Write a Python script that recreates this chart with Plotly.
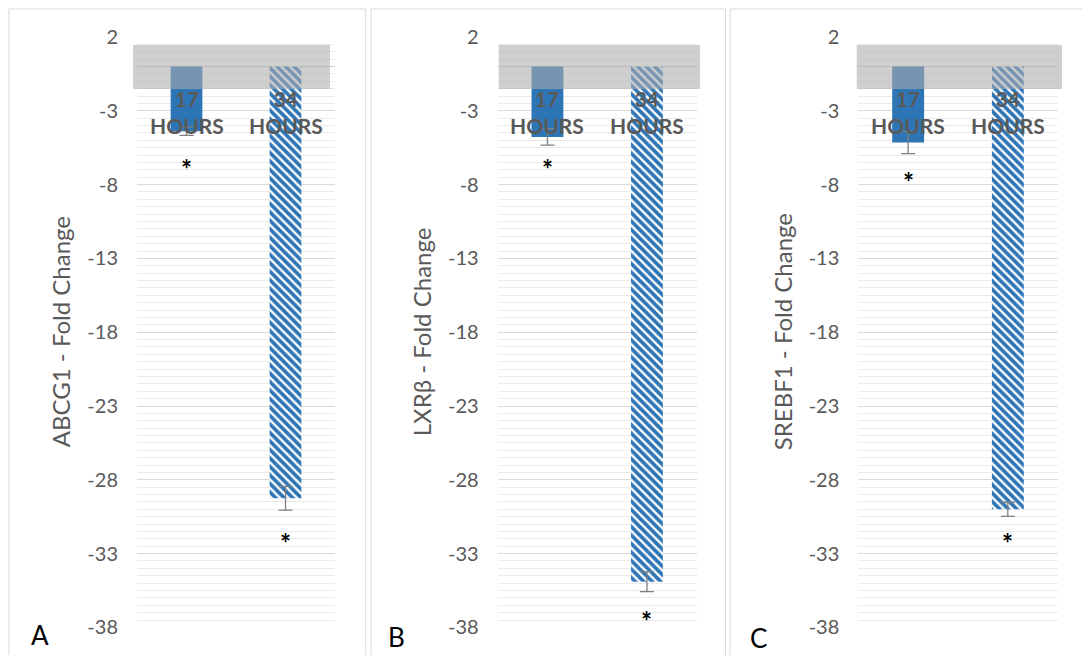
import plotly.graph_objects as go

# ---------------- data ----------------
categories = ["17 HOURS", "34 HOURS"]
category_labels = ["17<br>HOURS", "34<br>HOURS"]
panel_letters = ["A", "B", "C"]
gene_titles = ["ABCG1 - Fold Change", "LXRβ - Fold Change", "SREBF1 - Fold Change"]

abcg1_values = [-4.38, -29.25]
abcg1_errors = [0.28, 0.80]
lxrb_values = [-4.77, -34.90]
lxrb_errors = [0.56, 0.68]
srebf1_values = [-5.15, -30.00]
srebf1_errors = [0.75, 0.48]

abcg1_star_y = [-6.46, -31.8]
lxrb_star_y = [-6.46, -37.1]
srebf1_star_y = [-7.36, -31.8]

y_ticks = [2, -3, -8, -13, -18, -23, -28, -33, -38]
y_range = [-38, 2]
band_top = 1.46
band_bottom = -1.52

panel_values = [abcg1_values, lxrb_values, srebf1_values]
panel_errors = [abcg1_errors, lxrb_errors, srebf1_errors]
panel_stars = [abcg1_star_y, lxrb_star_y, srebf1_star_y]

# ---------------- layout geometry (pixels) ----------------
W, H = 1082, 655
plot_x = [(137, 335), (497.7, 696.7), (858.3, 1057.7)]
plot_top, plot_bottom = 36.7, 627.7
band_x = [(133, 330), (498.7, 700), (856.7, 1062)]
frame_x = [(9, 365.7), (371, 725.5), (730, 1095)]
frame_top = 9
title_x = [60, 421, 782]
letter_pos = [(39.7, 634.5), (396.5, 637), (758, 638)]

FONT = "Lato"
BLUE = "#2E75B6"
TXT = "#595959"

def px(x):
    return x / W

def py(y):
    return 1 - y / H

fig = go.Figure()

for i in range(3):
    ax = "" if i == 0 else str(i + 1)
    fig.add_trace(go.Bar(
        x=categories,
        y=panel_values[i],
        xaxis="x" + ax,
        yaxis="y" + ax,
        marker=dict(
            color=BLUE,
            line=dict(width=0),
            pattern=dict(shape=["", "\\"], fgcolor=BLUE, bgcolor="white",
                         fgopacity=1, size=6, solidity=0.62),
        ),
        error_y=dict(type="data", array=panel_errors[i], visible=True,
                     color="#7F7F7F", thickness=1.3, width=7),
        showlegend=False,
        hoverinfo="skip",
    ))

    fig.layout["xaxis" + ax] = dict(
        domain=[px(plot_x[i][0]), px(plot_x[i][1])],
        anchor="y" + ax,
        type="category",
        categoryorder="array",
        categoryarray=categories,
        range=[-0.5, 1.5],
        showticklabels=False,
        showgrid=False,
        zeroline=False,
        showline=False,
        ticks="",
        automargin=False,
    )
    fig.layout["yaxis" + ax] = dict(
        domain=[py(plot_bottom), py(plot_top)],
        anchor="x" + ax,
        range=[y_range[0] - 0.02, y_range[1] + 0.02],
        tickmode="array",
        tickvals=y_ticks,
        ticktext=[str(v) for v in y_ticks],
        tickfont=dict(family=FONT, size=20, color=TXT),
        ticklabelstandoff=18,
        ticks="",
        showgrid=True,
        gridcolor="#D9D9D9",
        gridwidth=1.3,
        zeroline=True,
        zerolinecolor="#D0D0D0",
        zerolinewidth=1.3,
        showline=False,
        automargin=False,
        minor=dict(tick0=2, dtick=0.5, showgrid=True,
                   gridcolor="#EBEBEB", gridwidth=1, ticks=""),
    )

    # grey translucent band near zero
    fig.add_shape(type="rect", xref="paper", yref="y" + ax,
                  x0=px(band_x[i][0]), x1=px(band_x[i][1]),
                  y0=band_bottom, y1=band_top,
                  fillcolor="rgba(172,172,172,0.58)", line=dict(width=0),
                  layer="above")

    # panel frame
    fig.add_shape(type="rect", xref="paper", yref="paper",
                  x0=px(frame_x[i][0]), x1=px(frame_x[i][1]),
                  y0=-0.05, y1=py(frame_top),
                  line=dict(color="#D9D9D9", width=1), fillcolor="rgba(0,0,0,0)",
                  layer="below")

    # category labels
    for c, lab in zip(categories, category_labels):
        fig.add_annotation(x=c, y=0, xref="x" + ax, yref="y" + ax,
                           text=lab, showarrow=False, yanchor="middle",
                           yshift=-45,
                           font=dict(family=FONT, size=21, color=TXT, weight="bold"))

    # significance stars
    for c, sy in zip(categories, panel_stars[i]):
        fig.add_annotation(x=c, y=sy, xref="x" + ax, yref="y" + ax,
                           text="*", showarrow=False, yanchor="middle",
                           yshift=-7,
                           font=dict(family=FONT, size=26, color="black", weight="bold"))

    # y axis title
    fig.add_annotation(x=px(title_x[i]), y=py((plot_top + plot_bottom) / 2),
                       xref="paper", yref="paper", text=gene_titles[i],
                       textangle=-90, showarrow=False,
                       xanchor="center", yanchor="middle",
                       font=dict(family=FONT, size=24, color=TXT))

    # panel letter
    fig.add_annotation(x=px(letter_pos[i][0]), y=py(letter_pos[i][1]),
                       xref="paper", yref="paper", text=panel_letters[i],
                       showarrow=False, xanchor="center", yanchor="middle",
                       font=dict(family=FONT, size=26, color="black"))

fig.update_layout(
    width=W, height=H,
    margin=dict(l=0, r=0, t=0, b=0, autoexpand=False),
    paper_bgcolor="white",
    plot_bgcolor="white",
    bargap=0.68,
    barmode="group",
)

fig.write_html(
    "out.html",
    config={"responsive": False, "displayModeBar": False},
    post_script="document.body.style.margin='0';document.body.style.overflow='hidden';",
)
